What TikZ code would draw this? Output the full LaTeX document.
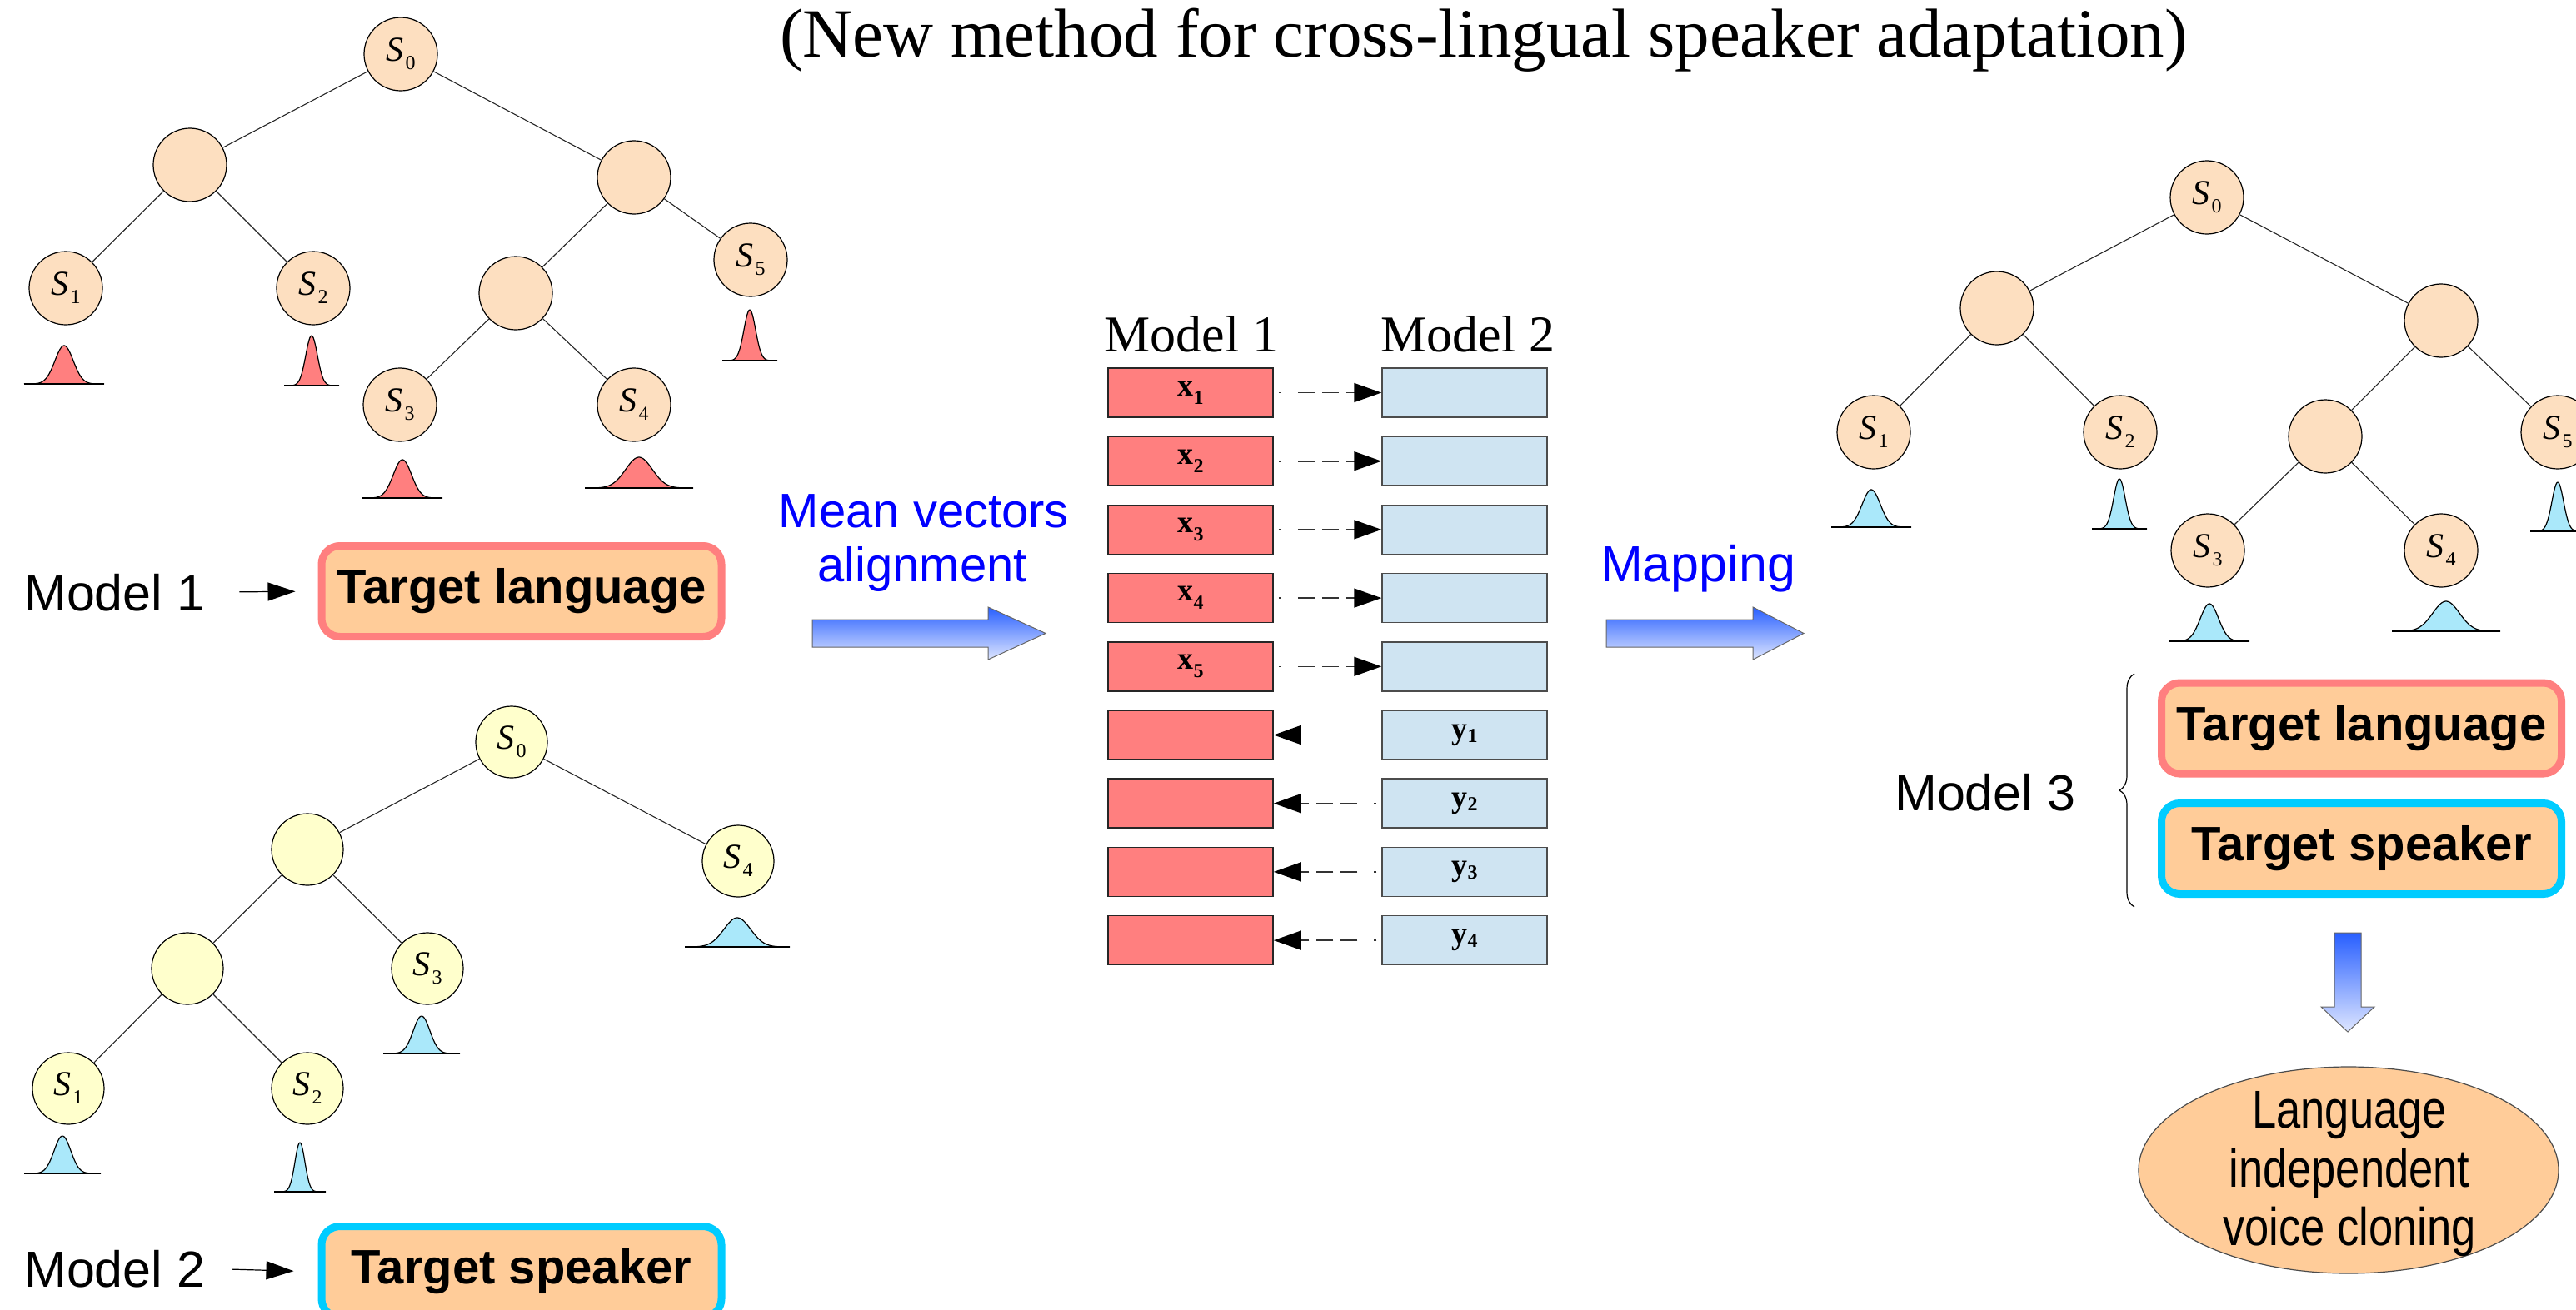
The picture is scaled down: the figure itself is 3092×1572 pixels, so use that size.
\documentclass[tikz,border=0pt]{standalone}
\usepackage{fontspec}
\usepackage{graphicx}
\setmainfont{Liberation Serif}
\setsansfont{Liberation Sans}
\newfontfamily\narrowsf[FakeStretch=0.82]{Liberation Sans}
\usetikzlibrary{arrows.meta,shapes.geometric,decorations.pathreplacing}

\definecolor{peach}{RGB}{253,223,192}
\definecolor{paleyellow}{RGB}{255,255,204}
\definecolor{gred}{RGB}{255,127,127}
\definecolor{gblue}{RGB}{170,232,250}
\definecolor{boxred}{RGB}{255,127,127}
\definecolor{boxblue}{RGB}{207,228,242}
\definecolor{tgtfill}{RGB}{255,204,153}
\definecolor{tgtred}{RGB}{255,127,127}
\definecolor{tgtcyan}{RGB}{0,204,255}
\definecolor{arrtop}{RGB}{40,95,255}
\definecolor{arrbot}{RGB}{222,230,255}
\definecolor{txtblue}{RGB}{0,0,255}

\newcommand{\Sx}[1]{\textit{S}\kern2pt\raisebox{-10pt}{\fontsize{24}{24}\selectfont #1}}
\newcommand{\vx}[1]{\textbf{x}\raisebox{-10pt}{\fontsize{24}{24}\selectfont\bfseries #1}}
\newcommand{\vy}[1]{\textbf{y}\raisebox{-4pt}{\fontsize{24}{24}\selectfont\bfseries #1}}
% cx, base, half width, height, sigma, colour
\newcommand{\gauss}[6]{%
  \fill[#6] plot[domain=-#3:#3, samples=70, smooth] ({#1+\x}, {#2-#4*exp(-0.5*(\x/#5)^2)}) -- cycle;
  \draw[line width=1.2pt] plot[domain=-#3:#3, samples=70, smooth] ({#1+\x}, {#2-#4*exp(-0.5*(\x/#5)^2)});
  \draw[line width=1.6pt] (#1-#3,#2) -- (#1+#3,#2);
}

\tikzset{
  tnode/.style={circle, draw=black, line width=1.2pt, minimum size=88pt, inner sep=0pt, fill=peach, font=\fontsize{42}{42}\selectfont},
  ynode/.style={tnode, fill=paleyellow, minimum size=86pt},
  tedge/.style={line width=1.1pt, black!85},
  vecred/.style={rectangle, draw=black!85, line width=1.5pt, fill=boxred, minimum width=198pt, minimum height=59pt, inner sep=0pt, font=\fontsize{38}{38}\selectfont},
  vecblue/.style={vecred, fill=boxblue, draw=black!70},
  dasharr/.style={line width=1.6pt, black!80, dash pattern=on 0pt off 6pt on 3pt off 20pt on 20pt off 9pt on 20pt off 9pt on 60pt, -{Triangle[length=33pt,width=23pt,black]}},
  labarr/.style={line width=1.2pt, black, -{Triangle[length=33pt,width=22pt]}},
  tgt/.style={rectangle, rounded corners=22pt, line width=9pt, fill=tgtfill, minimum width=480pt, minimum height=109pt, inner sep=0pt, font=\sffamily\bfseries\fontsize{58}{58}\selectfont},
  sflabel/.style={inner sep=0pt, font=\sffamily\fontsize{61}{61}\selectfont},
  bluelabel/.style={inner sep=0pt, text=txtblue, font=\sffamily\fontsize{58}{58}\selectfont},
  blockarr/.style={top color=arrtop, bottom color=arrbot, draw=black!60, line width=1pt}
}

\begin{document}
\begin{tikzpicture}[x=1pt,y=-1pt]
\useasboundingbox (0,0) rectangle (3092,1572);

% title
\node[anchor=base, inner sep=0pt, font=\fontsize{83}{90}\selectfont] (title) at (1781,68) {(New method for cross-lingual speaker adaptation)};

% ---------- Model 1 tree (top left) ----------
\node[tnode] (a0) at (481,65) {\Sx{0}};
\node[tnode] (a1) at (228,198) {};
\node[tnode] (a2) at (761,213) {};
\node[tnode] (a3) at (79,346) {\Sx{1}};
\node[tnode] (a4) at (376,346) {\Sx{2}};
\node[tnode] (a5) at (619,352) {};
\node[tnode] (a6) at (901,312) {\Sx{5}};
\node[tnode] (a7) at (480,486) {\Sx{3}};
\node[tnode] (a8) at (761,486) {\Sx{4}};
\draw[tedge] (a0) -- (a1);
\draw[tedge] (a0) -- (a2);
\draw[tedge] (a1) -- (a3);
\draw[tedge] (a1) -- (a4);
\draw[tedge] (a2) -- (a5);
\draw[tedge] (a2) -- (a6);
\draw[tedge] (a5) -- (a7);
\draw[tedge] (a5) -- (a8);
\gauss{77}{461}{48}{46}{11}{gred}
\gauss{374}{463}{33}{60}{7}{gred}
\gauss{900}{433}{33}{61}{7}{gred}
\gauss{483}{598}{48}{46}{11}{gred}
\gauss{767}{586}{65}{37}{16}{gred}

% ---------- Model 2 tree (bottom left) ----------
\node[ynode] (b0) at (614,891) {\Sx{0}};
\node[ynode] (b1) at (369,1020) {};
\node[ynode] (b2) at (886,1034) {\Sx{4}};
\node[ynode] (b3) at (225,1163) {};
\node[ynode] (b4) at (513,1163) {\Sx{3}};
\node[ynode] (b5) at (82,1307) {\Sx{1}};
\node[ynode] (b6) at (369,1307) {\Sx{2}};
\draw[tedge] (b0) -- (b1);
\draw[tedge] (b0) -- (b2);
\draw[tedge] (b1) -- (b3);
\draw[tedge] (b1) -- (b4);
\draw[tedge] (b3) -- (b5);
\draw[tedge] (b3) -- (b6);
\gauss{885}{1137}{63}{35}{16}{gblue}
\gauss{506}{1265}{46}{45}{10}{gblue}
\gauss{75}{1409}{46}{45}{10}{gblue}
\gauss{360}{1431}{31}{59}{6}{gblue}

% ---------- left labels and target boxes ----------
\node[sflabel, anchor=base west] (m1) at (29,733) {Model 1};
\node[tgt, draw=tgtred] (tl1) at (626,710) {Target language};
\draw[labarr, shorten <=41pt, shorten >=27pt] (m1.east) -- (tl1.west);
\node[sflabel, anchor=base west] (m2) at (29,1545) {Model 2};
\node[tgt, draw=tgtcyan] (ts1) at (626,1527) {Target speaker};
\draw[labarr, shorten <=32pt, shorten >=29pt] (m2.east) -- (ts1.west);

% ---------- block arrows and blue labels ----------
\node[bluelabel, anchor=base] (mv1) at (1109,633) {Mean vectors};
\node[bluelabel, anchor=base] (mv2) at (1107,698) {alignment};
\shadedraw[blockarr] (975,744) -- (1186,744) -- (1186,729) -- (1255,760.5) -- (1186,792) -- (1186,777) -- (975,777) -- cycle;
\node[bluelabel, anchor=base, font=\sffamily\fontsize{61}{61}\selectfont] (mp) at (2038,698) {Mapping};
\shadedraw[blockarr] (1928,744) -- (2104,744) -- (2104,729) -- (2165,760.5) -- (2104,792) -- (2104,777) -- (1928,777) -- cycle;

% ---------- mean vector columns ----------
\node[anchor=base, inner sep=0pt, font=\fontsize{62}{62}\selectfont] (h1) at (1430,422) {Model 1};
\node[anchor=base, inner sep=0pt, font=\fontsize{62}{62}\selectfont] (h2) at (1762,422) {Model 2};
\foreach \i in {1,...,5} {
  \node[vecred] (r\i) at (1429,{471.5+82.2*(\i-1)}) {\vx{\i}};
  \node[vecblue] (c\i) at (1758,{471.5+82.2*(\i-1)}) {};
  \draw[dasharr] (r\i) -- (c\i);
}
\foreach \i/\k in {6/1,7/2,8/3,9/4} {
  \node[vecred] (r\i) at (1429,{471.5+82.2*(\i-1)}) {};
  \node[vecblue] (c\i) at (1758,{471.5+82.2*(\i-1)}) {\vy{\k}};
  \draw[dasharr] (c\i) -- (r\i);
}

% ---------- Model 3 tree (right) ----------
\node[tnode] (d0) at (2649,237) {\Sx{0}};
\node[tnode] (d1) at (2397,370) {};
\node[tnode] (d2) at (2930,385) {};
\node[tnode] (d3) at (2249,519) {\Sx{1}};
\node[tnode] (d4) at (2545,519) {\Sx{2}};
\node[tnode] (d5) at (2791,524) {};
\node[tnode] (d6) at (3070,519) {\Sx{5}};
\node[tnode] (d7) at (2650,661) {\Sx{3}};
\node[tnode] (d8) at (2930,661) {\Sx{4}};
\draw[tedge] (d0) -- (d1);
\draw[tedge] (d0) -- (d2);
\draw[tedge] (d1) -- (d3);
\draw[tedge] (d1) -- (d4);
\draw[tedge] (d2) -- (d5);
\draw[tedge] (d2) -- (d6);
\draw[tedge] (d5) -- (d7);
\draw[tedge] (d5) -- (d8);
\gauss{2246}{633}{48}{45}{11}{gblue}
\gauss{2544}{635}{33}{60}{7}{gblue}
\gauss{3070}{638}{33}{59}{7}{gblue}
\gauss{2652}{770}{48}{45}{11}{gblue}
\gauss{2936}{758}{65}{36}{16}{gblue}

% ---------- Model 3 ----------
\node[sflabel, anchor=base west] (m3) at (2274,973) {Model 3};
\coordinate (brtop) at (2562,809);
\coordinate (brbot) at (2562,1089);
\draw[line width=1.2pt, decorate, decoration={brace, amplitude=18pt}] (brbot) -- (brtop);
\node[tgt, draw=tgtred] (tl3) at (2834.5,874.5) {Target language};
\node[tgt, draw=tgtcyan] (ts3) at (2834.5,1019) {Target speaker};
\shadedraw[blockarr] (2802,1120) -- (2834,1120) -- (2834,1209) -- (2850,1209) -- (2818,1239) -- (2786,1209) -- (2802,1209) -- cycle;
\node[ellipse, draw=black!70, line width=1.2pt, fill=tgtfill, minimum width=504pt, minimum height=248pt, inner sep=0pt] (clone) at (2819,1405) {};
\node[align=center, inner sep=0pt, font=\narrowsf\fontsize{64}{70.5}\selectfont] (clonetxt) at (2820,1410) {Language\\independent\\voice cloning};
\end{tikzpicture}
\end{document}
